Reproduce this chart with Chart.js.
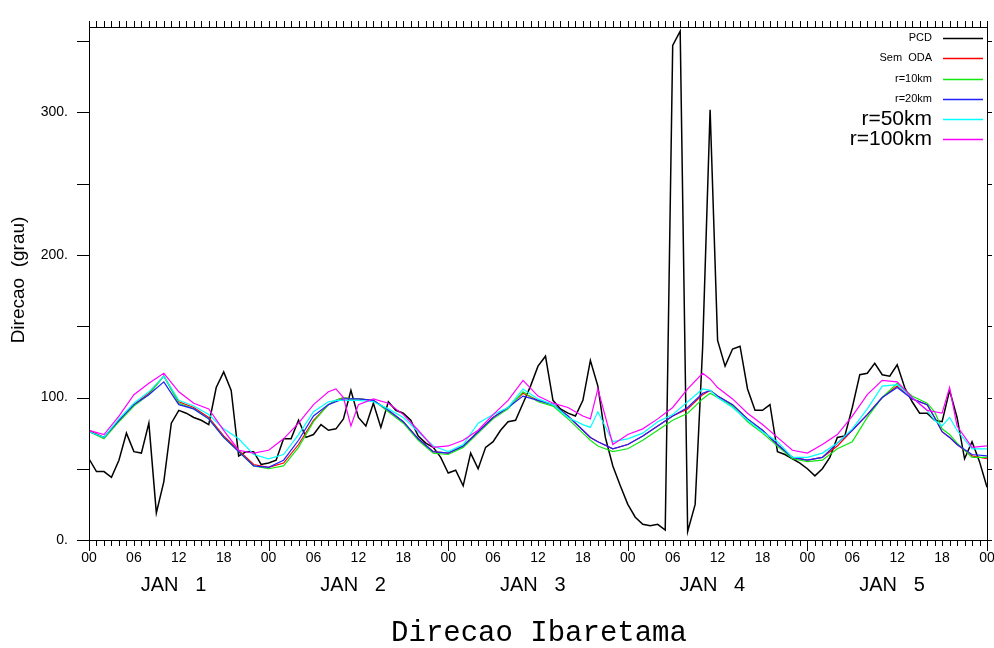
<!DOCTYPE html>
<html lang="pt">
<head>
<meta charset="UTF-8">
<title>Direcao Ibaretama</title>
<script src="https://cdn.jsdelivr.net/npm/chart.js@4.4.1/dist/chart.umd.min.js"></script>
<style>
  html, body { margin: 0; padding: 0; background: #fff; }
</style>
</head>
<body>
<canvas id="grafico" width="994" height="648"></canvas>

<script>
// PCD observada, valor por hora (00 JAN 1 ate 00 JAN 6)
var pcdHoras = Array.from({ length: 121 }, function (_, i) { return i; });
var pcd = [
  57, 48, 48, 44, 56, 75, 62, 61, 82, 19, 41, 82, 91, 89, 86, 84, 81, 107, 118, 105,
  59, 62, 62, 53, 54, 56, 71, 71, 84, 72, 74, 81, 77, 78, 85, 105, 86, 80, 96, 79,
  97, 91, 89, 84, 73, 68, 65, 58, 47, 49, 38, 61, 50, 65, 69, 77, 83, 84, 96, 108,
  122, 129, 98, 92, 89, 87, 98, 126, 108, 72, 52, 38, 25, 16, 11, 10, 11, 7, 347, 357,
  6, 25, 135, 302, 140, 122, 134, 136, 106, 91, 91, 95, 62, 60, 57, 54, 50, 45, 50, 58,
  72, 73, 93, 116, 117, 124, 116, 115, 123, 107, 97, 89, 89, 84, 83, 105, 86, 57, 69, 55,
  37
];

// horas em que foram lidas as simulacoes
var modeloHoras = [
  0, 2, 4, 6, 8, 10, 12, 14, 16, 18, 20, 22, 24, 26, 28, 30, 32, 33, 34, 35,
  36, 38, 40, 42, 44, 46, 48, 50, 52, 54, 56, 58, 60, 62, 64, 66, 67, 68, 70, 72,
  74, 76, 78, 80, 82, 83, 84, 86, 88, 90, 92, 94, 96, 98, 100, 102, 104, 106, 108, 110,
  112, 113, 114, 115, 116, 118, 120
];

var semOda = [
  77, 72, 84, 95, 103, 115, 97, 93, 86, 73, 63, 53, 51, 54, 67, 84, 95, 98, 100, 99,
  99, 98, 91, 83, 71, 62, 61, 66, 76, 86, 93, 103, 98, 95, 87, 77, 72, 69, 64, 67,
  73, 80, 87, 92, 102, 105, 101, 95, 85, 77, 67, 58, 56, 58, 66, 77, 88, 100, 108, 99,
  95, 86, 76, 72, 67, 59, 57
];
var r10 = [
  76, 71, 83, 94, 102, 115, 96, 92, 85, 72, 62, 52, 50, 52, 65, 83, 95, 98, 100, 99,
  99, 98, 90, 82, 70, 61, 60, 65, 75, 85, 92, 104, 97, 94, 85, 75, 70, 66, 62, 64,
  70, 77, 84, 89, 99, 103, 100, 94, 83, 75, 66, 57, 55, 56, 64, 69, 86, 100, 110, 101,
  96, 90, 78, 74, 68, 58, 58
];
var r20 = [
  76, 72, 84, 95, 102, 111, 95, 92, 85, 72, 62, 52, 51, 56, 70, 87, 95, 97, 99, 99,
  99, 98, 91, 83, 71, 62, 61, 66, 76, 86, 93, 101, 98, 95, 87, 77, 72, 69, 64, 67,
  73, 80, 87, 93, 103, 105, 101, 95, 85, 77, 67, 58, 56, 58, 68, 77, 88, 100, 107, 99,
  95, 86, 76, 72, 67, 60, 59
];
var r50 = [
  76, 72, 85, 96, 104, 115, 98, 94, 88, 78, 71, 60, 57, 60, 74, 90, 97, 98, 98, 98,
  98, 97, 92, 86, 76, 66, 62, 67, 82, 88, 93, 106, 99, 95, 86, 81, 79, 90, 69, 71,
  75, 83, 88, 97, 106, 105, 100, 93, 84, 76, 69, 58, 58, 61, 68, 78, 92, 108, 109, 100,
  91, 84, 80, 86, 77, 64, 64
];
var r100 = [
  77, 74, 87, 102, 110, 117, 104, 96, 92, 77, 63, 61, 63, 71, 82, 95, 104, 106, 100, 80,
  95, 99, 96, 88, 77, 65, 66, 70, 77, 88, 98, 112, 101, 96, 93, 87, 85, 106, 67, 74,
  78, 85, 93, 106, 117, 113, 107, 99, 89, 81, 72, 63, 61, 67, 74, 87, 102, 112, 111, 100,
  91, 90, 89, 107, 80, 65, 66
];

var yTicks = [0, 100, 200, 300];
var diasLabels = ['JAN   1', 'JAN   2', 'JAN   3', 'JAN   4', 'JAN   5'];
var legendaNomes = ['PCD', 'Sem  ODA', 'r=10km', 'r=20km', 'r=50km', 'r=100km'];
var cores = ['#000000', '#ff0000', '#10e810', '#2020ff', '#00ffff', '#ff00ff'];

function pontos(xs, ys) {
  return ys.map(function (v, i) { return { x: xs[i], y: v }; });
}

var moldura = {
  id: 'moldura',
  afterDraw: function (chart) {
    var ctx = chart.ctx;
    var a = chart.chartArea;
    var xs = chart.scales.x;
    var ys = chart.scales.y;
    ctx.save();
    ctx.strokeStyle = '#000';
    ctx.lineWidth = 1;
    ctx.strokeRect(a.left + 0.5, a.top + 0.5, a.right - a.left, a.bottom - a.top);

    ctx.beginPath();
    for (var h = 0; h <= 120; h++) {
      var px = Math.round(xs.getPixelForValue(h)) + 0.5;
      ctx.moveTo(px, a.top);
      ctx.lineTo(px, a.top - 6);
      ctx.moveTo(px, a.bottom);
      ctx.lineTo(px, a.bottom + (h % 24 === 0 ? 11 : 6));
    }
    for (var v = 0; v <= 350; v += 50) {
      var py = Math.round(ys.getPixelForValue(v)) + 0.5;
      ctx.moveTo(a.left - 12, py);
      ctx.lineTo(a.left, py);
      ctx.moveTo(a.right, py);
      ctx.lineTo(a.right + 5, py);
    }
    ctx.stroke();

    // dias
    ctx.fillStyle = '#000';
    ctx.font = '20px "Liberation Sans", Arial, sans-serif';
    ctx.textAlign = 'center';
    ctx.textBaseline = 'middle';
    diasLabels.forEach(function (d, i) {
      ctx.fillText(d, xs.getPixelForValue(i * 24 + 11.3), 585);
    });

    // titulo do eixo y
    ctx.save();
    ctx.translate(19, 280);
    ctx.rotate(-Math.PI / 2);
    ctx.font = '19px "Liberation Sans", Arial, sans-serif';
    ctx.fillText('Direcao  (grau)', 0, 0);
    ctx.restore();

    // titulo
    ctx.font = '29px "Liberation Mono", monospace';
    ctx.fillText('Direcao Ibaretama', 539, 633);

    // legenda
    ctx.textAlign = 'right';
    var linhas = [38, 58, 79, 99, 119, 139];
    legendaNomes.forEach(function (nome, i) {
      ctx.font = (i < 4 ? '11px' : '21px') + ' "Liberation Sans", Arial, sans-serif';
      ctx.fillStyle = '#000';
      ctx.fillText(nome, 932, linhas[i]);
      ctx.strokeStyle = cores[i];
      ctx.lineWidth = 1.3;
      ctx.beginPath();
      ctx.moveTo(943, linhas[i] + 0.5);
      ctx.lineTo(983, linhas[i] + 0.5);
      ctx.stroke();
    });
    ctx.restore();
  }
};

function serie(nome, dados, cor, ordem, largura) {
  return {
    label: nome,
    data: dados,
    borderColor: cor,
    backgroundColor: cor,
    borderWidth: largura,
    pointRadius: 0,
    tension: 0,
    order: ordem
  };
}

new Chart(document.getElementById('grafico'), {
  type: 'line',
  data: {
    datasets: [
      serie('PCD', pontos(pcdHoras, pcd), cores[0], 6, 1.5),
      serie('Sem ODA', pontos(modeloHoras, semOda), cores[1], 5, 1.2),
      serie('r=10km', pontos(modeloHoras, r10), cores[2], 4, 1.2),
      serie('r=20km', pontos(modeloHoras, r20), cores[3], 3, 1.2),
      serie('r=50km', pontos(modeloHoras, r50), cores[4], 2, 1.2),
      serie('r=100km', pontos(modeloHoras, r100), cores[5], 1, 1.2)
    ]
  },
  options: {
    responsive: false,
    animation: false,
    devicePixelRatio: 1,
    layout: { padding: { top: 27, right: 7, left: 0, bottom: 0 } },
    plugins: { legend: { display: false }, tooltip: { enabled: false } },
    scales: {
      x: {
        type: 'linear',
        min: 0,
        max: 120,
        grid: { display: false },
        border: { display: false },
        afterFit: function (s) {
          s.height = 108;
          s.paddingLeft = 0;
          s.paddingRight = 0;
        },
        ticks: {
          stepSize: 6,
          autoSkip: false,
          maxRotation: 0,
          padding: 2,
          color: '#000',
          font: { size: 14, family: '"Liberation Sans", Arial, sans-serif' },
          callback: function (v) { return String(v % 24).padStart(2, '0'); }
        }
      },
      y: {
        min: 0,
        max: 360,
        grid: { display: false },
        border: { display: false },
        afterFit: function (s) { s.width = 89; },
        ticks: {
          stepSize: 50,
          padding: 13,
          color: '#000',
          font: { size: 14, family: '"Liberation Sans", Arial, sans-serif' },
          callback: function (v) { return yTicks.indexOf(v) >= 0 ? v + '.' : ''; }
        }
      }
    }
  },
  plugins: [moldura]
});
</script>
</body>
</html>
